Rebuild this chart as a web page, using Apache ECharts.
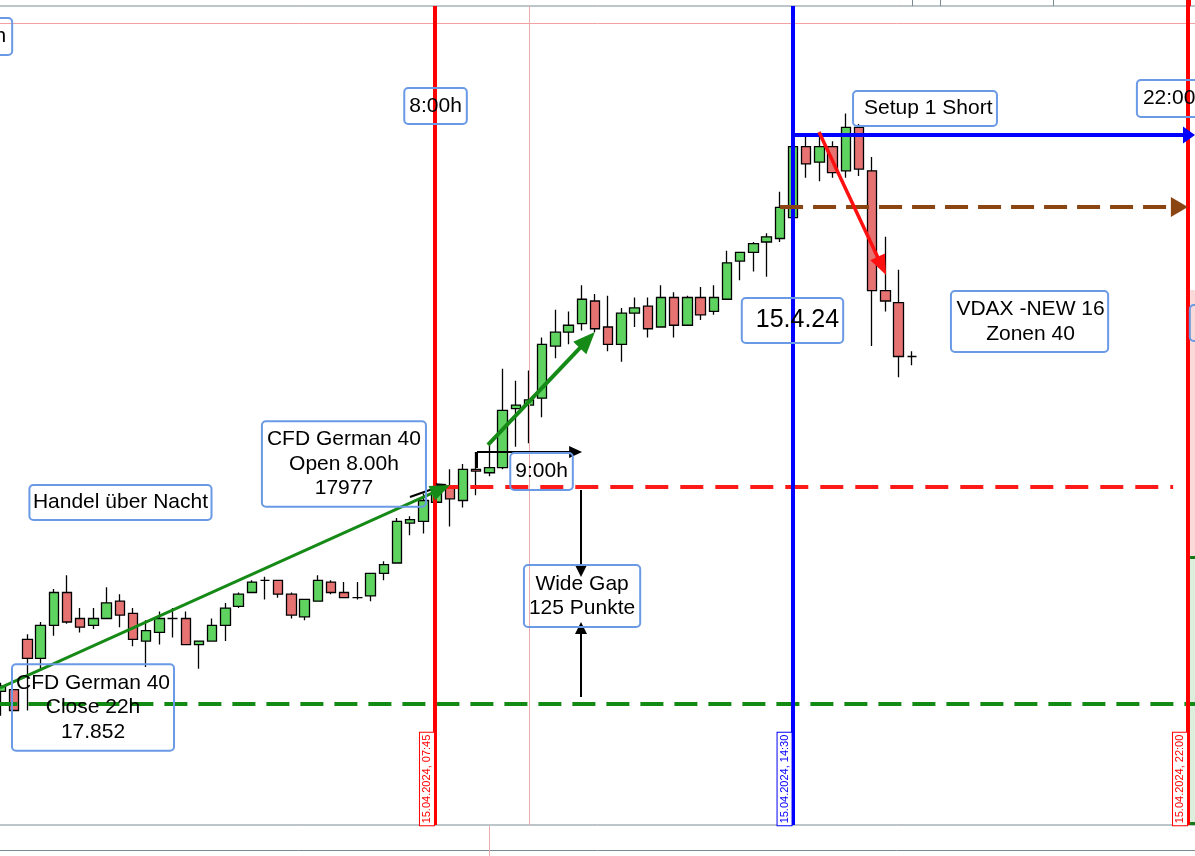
<!DOCTYPE html>
<html>
<head>
<meta charset="utf-8">
<script src="https://cdn.jsdelivr.net/npm/echarts@6/dist/echarts.min.js"></script>
<style>html,body{margin:0;padding:0;background:#fff;overflow:hidden}#c{width:1195px;height:856px}</style>
</head>
<body>
<div id="c"></div>
<script>
// ---------- DATA ----------
// 15-minute slots, 14.04.2024 23:30 ... 15.04.2024 22:15
const categories = [
 '23:30','23:45','00:00','00:15','00:30','00:45','01:00','01:15','01:30','01:45',
 '02:00','02:15','02:30','02:45','03:00','03:15','03:30','03:45','04:00','04:15',
 '04:30','04:45','05:00','05:15','05:30','05:45','06:00','06:15','06:30','06:45',
 '07:00','07:15','07:30','07:45','08:00','08:15','08:30','08:45','09:00','09:15',
 '09:30','09:45','10:00','10:15','10:30','10:45','11:00','11:15','11:30','11:45',
 '12:00','12:15','12:30','12:45','13:00','13:15','13:30','13:45','14:00','14:15',
 '14:30','14:45','15:00','15:15','15:30','15:45','16:00','16:15','16:30','16:45',
 '17:00','17:15','17:30','17:45','18:00','18:15','18:30','18:45','19:00','19:15',
 '19:30','19:45','20:00','20:15','20:30','20:45','21:00','21:15','21:30','21:45',
 '22:00','22:15'
];
// [open, close, low, high]
const candles = [
 [17859,17862,17845,17864],[17860,17848,17848,17860],[17889,17878,17848,17892],[17878,17897,17871,17899],
 [17897,17916,17891,17918],[17916,17899,17898,17926],[17901,17896,17893,17907],[17897,17901,17895,17907],
 [17901,17910,17901,17919],[17911,17903,17896,17915],[17904,17889,17885,17907],[17888,17894,17873,17900],
 [17893,17901,17886,17905],[17901,17901,17890,17907],[17901,17886,17886,17905],[17886,17888,17872,17888],
 [17888,17897,17888,17901],[17897,17907,17888,17910],[17908,17915,17907,17916],[17916,17922,17916,17923],
 [17923,17923,17912,17925],[17923,17915,17913,17923],[17915,17903,17901,17916],[17902,17912,17900,17912],
 [17911,17923,17911,17926],[17922,17916,17915,17923],[17916,17913,17913,17922],[17913,17913,17912,17922],
 [17914,17927,17911,17927],[17927,17932,17923,17934],[17933,17957,17933,17959],[17956,17958,17949,17960],
 [17957,17969,17950,17973],[17968,17977,17968,17979],[17977,17970,17954,17987],[17969,17987,17965,17990],
 [17987,17986,17972,17997],[17985,17988,17983,18001],[17988,18021,17987,18045],[18022,18024,18000,18038],
 [18024,18027,18002,18044],[18028,18059,18017,18063],[18058,18066,18051,18079],[18066,18070,18059,18078],
 [18071,18085,18067,18093],[18084,18068,18066,18088],[18069,18059,18055,18087],[18059,18077,18049,18080],
 [18077,18080,18069,18086],[18081,18068,18063,18086],[18069,18086,18069,18093],[18086,18070,18063,18089],
 [18070,18086,18070,18087],[18086,18076,18073,18092],[18078,18086,18076,18093],[18085,18106,18085,18113],
 [18107,18112,18096,18112],[18112,18117,18101,18118],[18118,18121,18098,18123],[18120,18138,18118,18147],
 [18132,18173,18132,18173],[18173,18163,18155,18179],[18164,18173,18153,18179],[18173,18158,18155,18176],
 [18159,18184,18155,18192],[18184,18160,18156,18186],[18159,18090,18058,18167],[18090,18084,18078,18121],
 [18083,18052,18040,18102],[18052,18052,18047,18055]
];
// price levels
const closeLevel = 17852;      // CFD German 40 Close 22h
const openLevel = 17977;       // CFD German 40 Open 8.00h
const stopLevel = 18138.2;     // brown dashed
const highLevel = 18179.6;     // blue line
const topLevel = 18244;        // thin pink line
// vertical session lines (slot index)
const sessionLines = [32.88, 60.0, 89.92];
const hourGridLine = 40.0;
// arrows [[slot, price],[slot, price]]
const arrowGreenLong  = [[-0.076, 17861.0], [33.33, 17975.6]];
const arrowGreenShort = [[36.89, 18001.0], [44.42, 18061.5]];
const arrowRed        = [[61.97, 18181.4], [66.73, 18104.2]];
const arrowBlue       = [[60.1, highLevel], [90.0, highLevel]];
const arrowBrown      = [[59.02, stopLevel], [89.27, stopLevel]];
const arrowNine       = [[36.06, 17997.0], [43.53, 17997.0]];
const tickNine        = [[36.06, 17997.0], [36.06, 17987.7]];
const arrowSmall      = [[30.98, 17971.0], [33.40, 17977.5]];
const gapDown         = [[43.94, 17975.1], [43.94, 17928.4]];
const gapUp           = [[43.94, 17855.8], [43.94, 17895.5]];
const openDashRange   = [32.9, 88.8];
// text boxes
const boxTexts = ['8:00h','CFD German 40\nOpen 8.00h\n17977','Handel über Nacht','CFD German 40\nClose 22h\n17.852',
  '9:00h','Wide Gap\n125 Punkte','15.4.24','Setup 1 Short','VDAX -NEW 16\nZonen 40','22:00h','22:00h','S'];
const boxAnchors = [[32.92,18196.4],[25.98,17990.0],[9.05,17967.9],[6.97,17849.7],
  [40.95,17985.7],[44.02,17914.0],[59.96,18072.7],[70.0,18194.9],[77.92,18072.2],[88.94,18200.7],[-0.45,18236.4],[91.2,18071.3]];
const dateTexts = ['15.04.2024, 07:45','15.04.2024, 14:30','15.04.2024, 22:00'];
const dateAnchors = [[32.27,17808.5],[59.36,17808.5],[89.32,17808.5]];
const zoneBreak = 17936.4, zoneTop = 18090.3;

// ---------- STYLE / LAYOUT ----------
const FONT = "'Liberation Sans', Arial, sans-serif";
const BOXBLUE = '#6a9ae6';
const boxStyle = [
 {p:[6,5,6,5]}, {p:[6,5,6,5], lh:24.5}, {p:[5.5,3.5,5.5,3.5]}, {p:[6.5,4,6.5,4], lh:24.5},
 {p:[6.5,5,6.5,5]}, {p:[6.5,5,6.5,5], lh:24.5}, {p:[7.5,4,7.5,14], fs:25, lh:30}, {p:[5.5,4.5,5.5,11]},
 {p:[6,3.5,6,5.5], lh:24.5}, {p:[6.5,6,6.5,6]}, {p:[6.5,6,6.5,6], off:[-21,0]}, {p:[6,8,6,8], color:'#ff0000'}
];
const dateColors = ['#ff0000','#0000ff','#ff0000'];

const chart = echarts.init(document.getElementById('c'), null, {renderer:'canvas'});

function seg(pts, style, endSym, endSize) {
  return [
    {coord: pts[0], symbol:'none', lineStyle: style},
    {coord: pts[1], symbol: endSym || 'none', symbolSize: endSize || 0}
  ];
}
function vline(x, style) {
  return [{coord:[x, 18254], symbol:'none', lineStyle: style}, {coord:[x, 17782], symbol:'none'}];
}

const lines = [
  seg([[-0.5, closeLevel],[91.5, closeLevel]], {color:'#138a13', width:4, type:[23,11]}),
  seg([[openDashRange[0], openLevel],[openDashRange[1], openLevel]], {color:'#ff1a1a', width:4, type:[23,12]}),
  seg([[-0.5, topLevel],[91.5, topLevel]], {color:'#f2a0a0', width:1, type:'solid'}),
  vline(hourGridLine, {color:'#ecacac', width:1, type:'solid'}),
  vline(sessionLines[0], {color:'#ff0000', width:4, type:'solid'}),
  vline(sessionLines[1], {color:'#0000ff', width:4, type:'solid'}),
  vline(sessionLines[2], {color:'#ff0000', width:4, type:'solid'}),
  seg(arrowBrown, {color:'#8B4513', width:4, type:[23,10]}, 'triangle', [20,17]),
  seg(arrowBlue, {color:'#0000ff', width:4, type:'solid'}, 'triangle', [17,12]),
  seg(arrowSmall, {color:'#000', width:2, type:'solid'}, 'triangle', [9,10]),
  seg(arrowGreenLong, {color:'#168a16', width:3, type:'solid'}, 'triangle', [16,20]),
  seg(arrowGreenShort, {color:'#168a16', width:4, type:'solid'}, 'triangle', [18,22]),
  seg(arrowRed, {color:'#ff1010', width:3.5, type:'solid'}, 'triangle', [16,20]),
  seg(arrowNine, {color:'#000', width:2, type:'solid'}, 'triangle', [12,13]),
  seg(tickNine, {color:'#000', width:2, type:'solid'}),
  seg(gapDown, {color:'#000', width:2, type:'solid'}, 'triangle', [12,12]),
  seg(gapUp, {color:'#000', width:2, type:'solid'}, 'triangle', [12,12]),
  seg([[90.08, zoneBreak],[91.5, zoneBreak]], {color:'#137a13', width:3, type:'solid'}),
  seg([[90.08, 17783],[91.5, 17783]], {color:'#137a13', width:3, type:'solid'})
];

const points = boxTexts.map((t, i) => {
  const s = boxStyle[i];
  return {
    coord: boxAnchors[i],
    symbol:'rect', symbolSize:1, itemStyle:{color:'rgba(0,0,0,0)'},
    label: {
      show:true, position:'inside', formatter: t,
      fontFamily: FONT, fontSize: s.fs || 21, lineHeight: s.lh || 24, color: s.color || '#000',
      padding: s.p, borderColor: BOXBLUE, borderWidth: 1, borderRadius: 4,
      backgroundColor: 'transparent', align:'center', offset: s.off || [0,0]
    }
  };
}).concat(dateTexts.map((t, i) => ({
  coord: dateAnchors[i],
  symbol:'rect', symbolSize:1, itemStyle:{color:'rgba(0,0,0,0)'},
  label: {
    show:true, position:'inside', formatter: t, rotate: 90,
    fontFamily: FONT, fontSize: 11, lineHeight: 12, color: dateColors[i],
    padding: [1,2,1,2], borderColor: dateColors[i], borderWidth: 1, borderRadius: 0,
    backgroundColor: '#fff'
  }
})));

const option = {
  animation: false,
  backgroundColor: '#ffffff',
  grid: {
    left: -5.6, width: 13.2 * categories.length, top: 6, height: 819,
    show: true, borderColor: '#7b8b95', borderWidth: 1, backgroundColor: 'transparent',
    containLabel: false, outerBoundsMode: 'none'
  },
  xAxis: [
    {type:'category', data: categories, boundaryGap: true, show: false},
    {type:'value', min: -0.5, max: categories.length - 0.5, show: false, splitLine:{show:false}}
  ],
  yAxis: [{type:'value', min: 17782, max: 18254, show: false, splitLine:{show:false}, scale:true}],
  series: [
    {
      type:'candlestick', xAxisIndex:0, yAxisIndex:0, data: candles, barWidth: 9.8, silent: true,
      itemStyle: {color:'#5fd35f', color0:'#e77272', borderColor:'#000', borderColor0:'#000', borderColorDoji:'#000', borderWidth:1.3},
      emphasis: {disabled: true}
    },
    {
      type:'line', xAxisIndex:1, yAxisIndex:0, data: [], z: 5, silent: true,
      markArea: {
        silent: true,
        data: [
          [{coord:[90.08, zoneTop], itemStyle:{color:'#fcd9d9'}}, {coord:[91.5, zoneBreak]}],
          [{coord:[90.08, zoneBreak], itemStyle:{color:'#dcefdc'}}, {coord:[91.5, 17782]}]
        ]
      },
      markLine: { silent: true, symbol:['none','none'], label:{show:false}, emphasis:{disabled:true}, data: lines, animation:false },
      markPoint: { silent: true, data: points, animation:false }
    }
  ],
  graphic: [
    {type:'line', shape:{x1:0,y1:850.5,x2:1195,y2:850.5}, style:{stroke:'#7b8b95', lineWidth:1}, silent:true},
    {type:'line', shape:{x1:489.5,y1:826,x2:489.5,y2:856}, style:{stroke:'#ecacac', lineWidth:1}, silent:true},
    {type:'line', shape:{x1:912.5,y1:0,x2:912.5,y2:6}, style:{stroke:'#7b8b95', lineWidth:1}, silent:true},
    {type:'line', shape:{x1:940.5,y1:0,x2:940.5,y2:6}, style:{stroke:'#7b8b95', lineWidth:1}, silent:true},
    {type:'line', shape:{x1:1053.5,y1:0,x2:1053.5,y2:6}, style:{stroke:'#7b8b95', lineWidth:1}, silent:true},
    {type:'rect', shape:{x:1186,y:0,width:5,height:6}, style:{fill:'#ff0000'}, silent:true}
  ]
};
chart.setOption(option);
</script>
</body>
</html>
